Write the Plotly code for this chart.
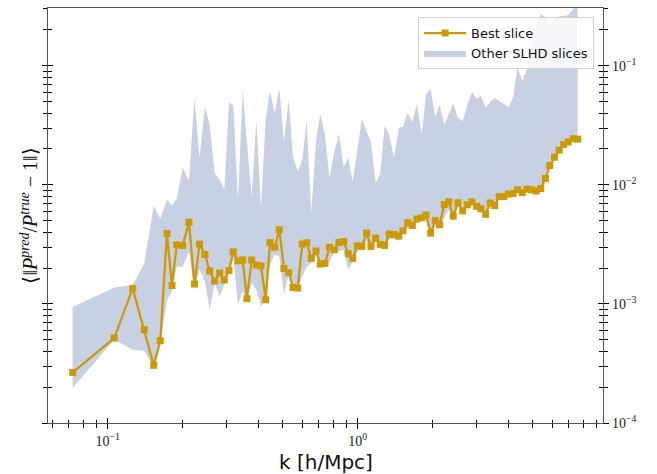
import math
import plotly.graph_objects as go

# wavenumber bins [h/Mpc]
k = [0.0724, 0.1062, 0.1259, 0.1401, 0.1528, 0.1623, 0.1726, 0.1808, 0.1888, 0.1995,
     0.2114, 0.2224, 0.2329, 0.2449, 0.2559, 0.2679, 0.2805, 0.2927, 0.3056, 0.3180,
     0.3320, 0.3467, 0.3607, 0.3767, 0.3930, 0.4104, 0.4285, 0.4459, 0.4656, 0.4858,
     0.5072, 0.5297, 0.5511, 0.5754, 0.6003, 0.6252, 0.6522, 0.6810, 0.7085, 0.7398,
     0.7711, 0.8060, 0.8417, 0.8790, 0.9171, 0.9550, 0.9963, 1.040, 1.086, 1.130,
     1.180, 1.231, 1.282, 1.338, 1.397, 1.459, 1.518, 1.585, 1.654, 1.727,
     1.803, 1.876, 1.959, 2.044, 2.128, 2.220, 2.312, 2.412, 2.518, 2.630,
     2.744, 2.866, 2.992, 3.113, 3.251, 3.392, 3.535, 3.685, 3.841, 4.011,
     4.181, 4.358, 4.555, 4.756, 4.958, 5.176, 5.400, 5.639, 5.867, 6.126,
     6.397, 6.668, 6.950, 7.264, 7.586]

# mean relative error of the best slice
best_slice = [2.66e-4, 5.17e-4, 1.349e-3, 6.08e-4, 3.05e-4, 4.91e-4, 3.90e-3, 1.429e-3, 3.14e-3, 3.10e-3,
              4.86e-3, 1.469e-3, 3.18e-3, 2.60e-3, 1.888e-3, 1.556e-3, 1.816e-3, 1.587e-3, 1.910e-3, 2.74e-3,
              2.30e-3, 2.34e-3, 1.106e-3, 2.34e-3, 2.12e-3, 2.08e-3, 1.084e-3, 3.28e-3, 3.00e-3, 4.19e-3,
              1.985e-3, 1.827e-3, 1.375e-3, 1.359e-3, 3.18e-3, 3.26e-3, 2.41e-3, 2.78e-3, 2.16e-3, 2.19e-3,
              2.99e-3, 2.85e-3, 3.28e-3, 3.34e-3, 2.64e-3, 2.41e-3, 3.08e-3, 3.04e-3, 3.93e-3, 3.04e-3,
              3.57e-3, 3.16e-3, 3.10e-3, 3.86e-3, 3.83e-3, 3.71e-3, 4.11e-3, 4.80e-3, 4.56e-3, 5.16e-3,
              5.29e-3, 5.57e-3, 3.93e-3, 5.02e-3, 4.62e-3, 6.84e-3, 7.20e-3, 5.46e-3, 7.06e-3, 6.05e-3,
              6.80e-3, 7.17e-3, 6.60e-3, 6.29e-3, 5.66e-3, 7.03e-3, 6.69e-3, 7.97e-3, 7.97e-3, 8.36e-3,
              8.45e-3, 9.08e-3, 8.62e-3, 9.20e-3, 9.08e-3, 8.87e-3, 9.31e-3, 1.129e-2, 1.452e-2, 1.708e-2,
              1.955e-2, 2.18e-2, 2.29e-2, 2.44e-2, 2.42e-2]

# envelope of the other SLHD slices
others_hi = [9.42e-4, 1.375e-3, 1.441e-3, 2.20e-3, 6.70e-3, 5.19e-3, 7.48e-3, 6.70e-3, 7.68e-3, 1.397e-2,
             1.080e-2, 5.34e-2, 1.675e-2, 4.51e-2, 3.19e-2, 1.254e-2, 1.101e-2, 9.08e-3, 4.92e-2, 4.65e-2,
             7.48e-3, 6.27e-2, 2.25e-2, 7.98e-3, 3.51e-2, 6.41e-3, 3.51e-2, 6.14e-2, 4.02e-2, 6.48e-2,
             2.31e-2, 5.24e-2, 1.727e-2, 1.293e-2, 1.622e-2, 3.51e-2, 5.82e-3, 2.34e-2, 3.92e-2, 2.63e-2,
             1.145e-2, 1.891e-2, 2.68e-2, 1.416e-2, 1.685e-2, 1.060e-2, 1.966e-2, 3.58e-2, 2.78e-2, 2.29e-2,
             1.039e-2, 1.237e-2, 3.13e-2, 2.63e-2, 1.685e-2, 3.01e-2, 3.07e-2, 4.02e-2, 3.38e-2, 4.78e-2,
             2.63e-2, 5.69e-2, 6.39e-2, 3.72e-2, 4.69e-2, 3.19e-2, 3.87e-2, 4.87e-2, 3.65e-2, 3.44e-2,
             4.69e-2, 6.03e-2, 5.27e-2, 5.58e-2, 4.43e-2, 4.97e-2, 5.37e-2, 5.07e-2, 4.78e-2, 4.51e-2,
             5.37e-2, 9.77e-2, 7.46e-2, 9.40e-2, 0.1524, 0.2076, 0.272, 0.2567, 0.2116, 0.247,
             0.2592, 0.262, 0.267, 0.294, 0.40]
others_lo = [1.97e-4, 5.01e-4, 4.13e-4, 4.05e-4, 2.90e-4, 4.55e-4, 1.084e-3, 1.273e-3, 2.06e-3, 2.04e-3,
             2.76e-3, 1.315e-3, 1.94e-3, 1.535e-3, 8.94e-4, 1.497e-3, 1.156e-3, 1.449e-3, 1.816e-3, 2.43e-3,
             9.85e-4, 1.273e-3, 1.084e-3, 1.497e-3, 1.315e-3, 9.53e-4, 1.076e-3, 2.13e-3, 2.59e-3, 2.50e-3,
             1.195e-3, 1.792e-3, 1.315e-3, 1.273e-3, 1.701e-3, 2.06e-3, 2.20e-3, 2.59e-3, 2.06e-3, 2.17e-3,
             2.26e-3, 2.69e-3, 2.76e-3, 2.85e-3, 1.94e-3, 2.26e-3, 2.76e-3, 2.94e-3, 3.32e-3, 2.85e-3,
             3.32e-3, 3.02e-3, 2.96e-3, 3.46e-3, 3.52e-3, 3.46e-3, 3.88e-3, 4.33e-3, 4.36e-3, 4.92e-3,
             4.99e-3, 5.09e-3, 3.68e-3, 4.47e-3, 4.47e-3, 5.26e-3, 6.17e-3, 4.92e-3, 6.80e-3, 5.82e-3,
             6.54e-3, 6.93e-3, 6.35e-3, 6.05e-3, 5.44e-3, 6.77e-3, 6.44e-3, 7.68e-3, 7.68e-3, 8.04e-3,
             8.13e-3, 8.74e-3, 8.29e-3, 8.86e-3, 8.74e-3, 8.53e-3, 8.96e-3, 1.087e-2, 1.397e-2, 1.643e-2,
             1.88e-2, 2.10e-2, 2.21e-2, 2.35e-2, 2.33e-2]

x_major = [0.1, 1.0]
x_major_text = ["10<sup>−1</sup>", "10<sup>0</sup>"]
y_major = [1e-4, 1e-3, 1e-2, 1e-1]
y_major_text = ["10<sup>−4</sup>", "10<sup>−3</sup>", "10<sup>−2</sup>", "10<sup>−1</sup>"]

GOLD = "#CC9A06"
BAND = "#C8D1E3"
SPINE = "#555555"
SERIF = "Liberation Serif"
SANS = "DejaVu Sans"

x_range = [math.log10(0.0577), math.log10(9.58)]
y_range = [-4.0, -0.515]

x_minor = [m * 10.0 ** d for d in (-2, -1, 0) for m in range(2, 10)]
y_minor = [m * 10.0 ** d for d in (-4, -3, -2, -1) for m in range(2, 10)]

fig = go.Figure()
fig.add_trace(go.Scatter(x=k, y=others_lo, mode="lines", line=dict(width=0, color=BAND),
                         showlegend=False, hoverinfo="skip"))
fig.add_trace(go.Scatter(x=k, y=others_hi, mode="lines", line=dict(width=0, color=BAND),
                         fill="tonexty", fillcolor=BAND, name="Other SLHD slices", legendrank=2))
fig.add_trace(go.Scatter(x=k, y=best_slice, mode="lines+markers", name="Best slice",
                         line=dict(color=GOLD, width=2.3),
                         marker=dict(symbol="square", size=7, color=GOLD), legendrank=1))

# empty companions so the tick-only overlay axes (inner ticks, right-hand labels) get drawn
for xa, ya in (("x2", "y"), ("x", "y2"), ("x", "y3"), ("x", "y4")):
    fig.add_trace(go.Scatter(x=[k[0]], y=[best_slice[0]], xaxis=xa, yaxis=ya, mode="markers",
                             marker=dict(opacity=0, size=1), showlegend=False, hoverinfo="skip"))


def x_axis(inside, **extra):
    d = dict(type="log", range=x_range, showgrid=False, zeroline=False,
             ticks="inside" if inside else "outside", ticklen=5, tickwidth=1, tickcolor="#000",
             tickvals=x_major,
             minor=dict(ticks="inside" if inside else "outside", ticklen=3.5, tickwidth=1,
                        tickcolor="#000", tickvals=x_minor, showgrid=False))
    d.update(extra)
    return d


def y_axis(inside, side, **extra):
    d = dict(type="log", range=y_range, showgrid=False, zeroline=False, side=side,
             ticks="inside" if inside else "outside", ticklen=5, tickwidth=1, tickcolor="#000",
             tickvals=y_major,
             minor=dict(ticks="inside" if inside else "outside", ticklen=4, tickwidth=1,
                        tickcolor="#000", tickvals=y_minor, showgrid=False))
    d.update(extra)
    return d


fig.update_layout(
    width=657, height=474,
    margin=dict(l=48, r=54, t=8, b=51),
    paper_bgcolor="white", plot_bgcolor="white",
    xaxis=x_axis(False, ticktext=x_major_text, showline=True, linecolor=SPINE, linewidth=1.3,
                 mirror=True, tickfont=dict(family=SERIF, size=14, color="#222")),
    xaxis2=x_axis(True, overlaying="x", anchor="y", side="bottom", showticklabels=False),
    yaxis=y_axis(False, "left", showticklabels=False, showline=True, linecolor=SPINE,
                 linewidth=1.3),
    yaxis2=y_axis(False, "right", overlaying="y", anchor="x", ticktext=y_major_text,
                  showline=True, linecolor=SPINE, linewidth=1.3,
                  tickfont=dict(family=SERIF, size=14, color="#222")),
    yaxis3=y_axis(True, "left", overlaying="y", anchor="x", showticklabels=False),
    yaxis4=y_axis(True, "right", overlaying="y", anchor="x", showticklabels=False),
    legend=dict(x=0.984, y=0.978, xanchor="right", yanchor="top", traceorder="normal",
                itemwidth=42,
                bgcolor="rgba(255,255,255,0.8)", bordercolor="#d0d0d0", borderwidth=1,
                font=dict(family=SANS, size=13, color="#111")),
    annotations=[
        dict(text="k [h/Mpc]", xref="paper", yref="paper", x=0.5, y=-0.095,
             xanchor="center", yanchor="middle", showarrow=False,
             font=dict(family=SANS, size=20, color="#111")),
        dict(text="⟨‖<i>P</i><sup><i>pred</i></sup>/<i>P</i><sup><i>true</i></sup> − 1‖⟩",
             xref="paper", yref="paper", x=-0.036, y=0.5, textangle=-90,
             xanchor="center", yanchor="middle", showarrow=False,
             font=dict(family=SERIF, size=20, color="#111")),
    ],
)

fig.write_html("out.html")
